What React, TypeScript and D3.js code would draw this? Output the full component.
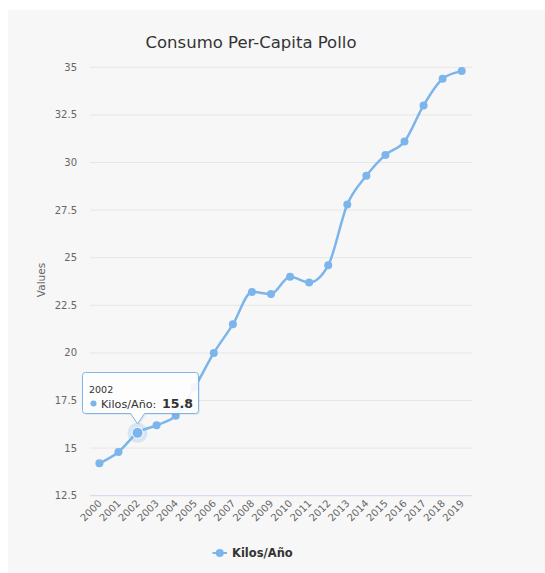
import React from "react";
import * as d3 from "d3";

const years = ["2000","2001","2002","2003","2004","2005","2006","2007","2008","2009","2010","2011","2012","2013","2014","2015","2016","2017","2018","2019"];
const kilos = [14.2, 14.8, 15.8, 16.2, 16.7, 18.2, 20.0, 21.5, 23.2, 23.1, 24.0, 23.7, 24.6, 27.8, 29.3, 30.4, 31.1, 33.0, 34.4, 34.8];
const yTicks = [12.5, 15, 17.5, 20, 22.5, 25, 27.5, 30, 32.5, 35];
const title = "Consumo Per-Capita Pollo";
const seriesName = "Kilos/Año";
const yTitle = "Values";
const tooltipIndex = 2;

const W = 545, H = 573;
const COLOR = "#7cb5ec";
const FONT = "'DejaVu Sans', Verdana, sans-serif";

export default function App() {
  const x = d3.scalePoint<string>().domain(years).range([99.4, 461.7]);
  const y = d3.scaleLinear().domain([12.5, 35]).range([495.7, 67.3]);
  const pts: [number, number][] = years.map((yr, i) => [x(yr) as number, y(kilos[i])]);
  const line = d3.line<[number, number]>().x(d => d[0]).y(d => d[1]).curve(d3.curveMonotoneX);

  const tx = pts[tooltipIndex][0];
  const ty = pts[tooltipIndex][1];
  const bx0 = 82.5, bx1 = 198.5, by0 = 372.5, by1 = 413.5;
  const tipY = ty - 9;
  const boxPath = `M${bx0 + 3},${by0} L${bx1 - 3},${by0} Q${bx1},${by0} ${bx1},${by0 + 3} L${bx1},${by1 - 3} Q${bx1},${by1} ${bx1 - 3},${by1} L${tx + 7},${by1} L${tx},${tipY} L${tx - 7},${by1} L${bx0 + 3},${by1} Q${bx0},${by1} ${bx0},${by1 - 3} L${bx0},${by0 + 3} Q${bx0},${by0} ${bx0 + 3},${by0} Z`;

  return (
    <svg width={W} height={H} style={{ position: "absolute", left: 0, top: 0, display: "block" }} fontFamily={FONT}>
      <rect x={0} y={0} width={W} height={H} fill="#ffffff" />
      <rect x={8} y={10} width={W - 8} height={H - 10} fill="#f7f7f7" />
      <text x={251} y={48} textAnchor="middle" fontSize={16.5} fill="#333333">{title}</text>
      {yTicks.map((t, i) => (
        <g key={t}>
          <line x1={90} x2={472} y1={y(t)} y2={y(t)} stroke={i === 0 ? "#ccd6eb" : "#e6e6e6"} strokeWidth={1} />
          <text x={77} y={y(t)} dy="0.35em" textAnchor="end" fontSize={10} fill="#666666">{t}</text>
        </g>
      ))}
      <text transform={`translate(45,280) rotate(-90)`} textAnchor="middle" fontSize={10.5} fill="#666666">{yTitle}</text>
      {years.map((yr) => (
        <text key={yr} transform={`translate(${(x(yr) as number) + 3},${504}) rotate(-45)`} textAnchor="end" fontSize={10} fill="#666666">{yr}</text>
      ))}
      <path d={line(pts) || ""} fill="none" stroke={COLOR} strokeWidth={2.5} strokeLinejoin="round" strokeLinecap="round" />
      {pts.map((p, i) => i === tooltipIndex ? null : (
        <circle key={i} cx={p[0]} cy={p[1]} r={4} fill={COLOR} />
      ))}
      <circle cx={tx} cy={ty} r={10} fill={COLOR} opacity={0.25} />
      <circle cx={tx} cy={ty} r={5.5} fill={COLOR} stroke="#ffffff" strokeWidth={1} />
      <path d={boxPath} fill="#000" opacity={0.06} transform="translate(1.5,1.5)" />
      <path d={boxPath} fill="#ffffff" fillOpacity={0.9} stroke={COLOR} strokeWidth={1} />
      <text x={89} y={393} fontSize={9.5} fill="#333333">{years[tooltipIndex]}</text>
      <circle cx={93.5} cy={403.5} r={3} fill={COLOR} />
      <text x={101} y={407.5} fontSize={11.2} fill="#333333">{seriesName}: </text>
      <text x={162} y={408} fontSize={12.5} fontWeight="bold" fill="#333333">{kilos[tooltipIndex]}</text>
      <line x1={212.5} x2={227} y1={553} y2={553} stroke={COLOR} strokeWidth={2} />
      <circle cx={219.75} cy={553} r={4} fill={COLOR} />
      <text x={232} y={557} fontSize={11.5} fontWeight="bold" fill="#333333">{seriesName}</text>
    </svg>
  );
}
